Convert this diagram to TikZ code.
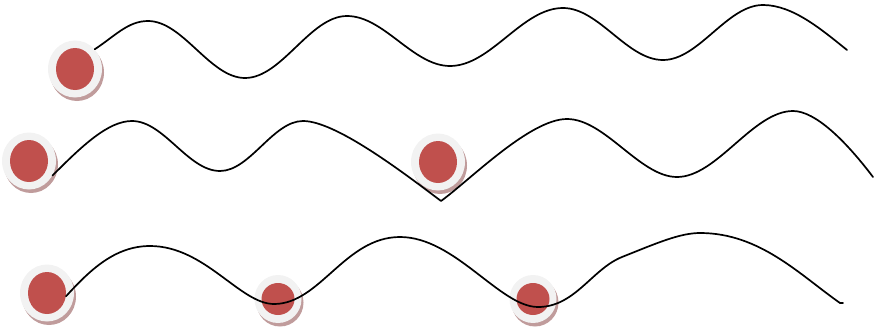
\documentclass[tikz,border=0pt]{standalone}
\usetikzlibrary{shapes.geometric,shadows}
\definecolor{ringc}{HTML}{F2F2F2}
\definecolor{dotc}{HTML}{C0504D}
\definecolor{shadc}{HTML}{C09C9C}
\tikzset{
  bigring/.style={ellipse, fill=ringc, inner sep=0pt, minimum width=54pt, minimum height=57pt,
    general shadow={shadow xshift=2pt, shadow yshift=-3.5pt, fill=shadc}},
  smallring/.style={ellipse, fill=ringc, inner sep=0pt, minimum width=47pt, minimum height=48pt,
    general shadow={shadow xshift=2pt, shadow yshift=-3.5pt, fill=shadc}},
  bigdot/.style={ellipse, fill=dotc, inner sep=0pt, minimum width=38pt, minimum height=42pt},
  smalldot/.style={ellipse, fill=dotc, inner sep=0pt, minimum width=33pt, minimum height=32pt},
  wave/.style={draw=black, line width=1.7pt, line cap=round, line join=round}
}
\begin{document}
\begin{tikzpicture}[x=1pt,y=-1pt]
\useasboundingbox (0,0) rectangle (882,329);
% rings
\node[bigring] (r1) at (75,69) {};
\node[bigring] (r2) at (29,161) {};
\node[bigring] (r3) at (438,162) {};
\node[bigring] (r4) at (47,293) {};
\node[smallring] (r5) at (278,299) {};
\node[smallring] (r6) at (533,299) {};
% dots
\node[bigdot] (d1) at (r1) {};
\node[bigdot] (d2) at (r2) {};
\node[bigdot] (d3) at (r3) {};
\node[bigdot] (d4) at (r4) {};
\node[smalldot] (d5) at (r5) {};
\node[smalldot] (d6) at (r6) {};
% wave 1
\draw[wave] (r1.45) .. controls (115,36) and (128,21) .. (148,21)
  .. controls (183,21) and (210,78) .. (245,78)
  .. controls (282,78) and (310,16) .. (347,16)
  .. controls (384,16) and (413,66) .. (450,66)
  .. controls (491,66) and (522,8) .. (563,8)
  .. controls (599,8) and (627,60) .. (663,60)
  .. controls (699,60) and (727,5) .. (763,5)
  .. controls (793,5) and (822,30) .. (847,50);
% wave 2
\draw[wave] (r2.-32) .. controls (82,146) and (108,121) .. (132,121)
  .. controls (164,121) and (188,171) .. (220,171)
  .. controls (250,171) and (273,121) .. (303,121)
  .. controls (335,121) and (400,170) .. (441,201)
  .. controls (470,180) and (530,119) .. (567,119)
  .. controls (605,119) and (640,177) .. (677,177)
  .. controls (717,177) and (753,111) .. (793,111)
  .. controls (815,111) and (845,140) .. (873,177);
% wave 3
\draw[wave] (d4.-10) .. controls (90,270) and (115,246) .. (150,246)
  .. controls (205,246) and (240,304) .. (274,304)
  .. controls (320,304) and (345,237) .. (400,237)
  .. controls (455,237) and (500,307) .. (538,307)
  .. controls (575,307) and (592,269) .. (622,257)
  .. controls (657,243) and (680,233) .. (700,233)
  .. controls (760,233) and (800,275) .. (840,303) -- (843,303);
\end{tikzpicture}
\end{document}
